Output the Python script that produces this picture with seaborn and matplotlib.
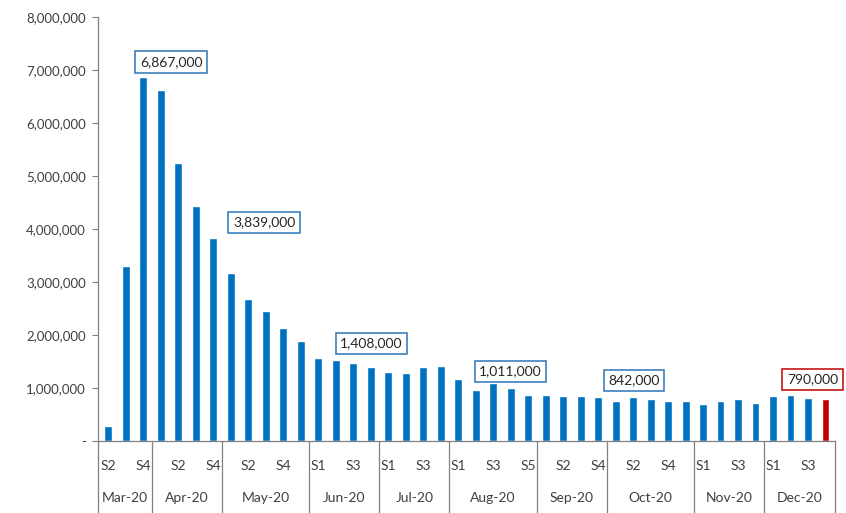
import matplotlib
matplotlib.use("Agg")
import matplotlib.pyplot as plt
import matplotlib.transforms as mtransforms
from matplotlib.ticker import FuncFormatter
import seaborn as sns
import pandas as pd

# ---- data ----
months = ["Mar-20", "Apr-20", "May-20", "Jun-20", "Jul-20",
          "Aug-20", "Sep-20", "Oct-20", "Nov-20", "Dec-20"]
weeks_per_month = [
    ["S2", "S3", "S4"],
    ["S1", "S2", "S3", "S4"],
    ["S1", "S2", "S3", "S4", "S5"],
    ["S1", "S2", "S3", "S4"],
    ["S1", "S2", "S3", "S4"],
    ["S1", "S2", "S3", "S4", "S5"],
    ["S1", "S2", "S3", "S4"],
    ["S1", "S2", "S3", "S4", "S5"],
    ["S1", "S2", "S3", "S4"],
    ["S1", "S2", "S3", "S4"],
]
shown_week_labels = [
    ["S2", "S4"], ["S2", "S4"], ["S2", "S4"], ["S1", "S3"], ["S1", "S3"],
    ["S1", "S3", "S5"], ["S2", "S4"], ["S2", "S4"], ["S1", "S3"], ["S1", "S3"],
]
claims = [
    282000, 3307000, 6867000,
    6615000, 5237000, 4442000, 3839000,
    3176000, 2687000, 2446000, 2126000, 1897000,
    1566000, 1530000, 1470000, 1408000,
    1310000, 1290000, 1400000, 1420000,
    1180000, 960000, 1104000, 1011000, 870000,
    880000, 855000, 860000, 828000,
    755000, 842000, 790000, 755000, 755000,
    710000, 750000, 790000, 720000,
    855000, 880000, 805000, 790000,
]
# bars (1-based) carrying a call-out
highlight_bars = [3, 7, 16, 24, 31, 42]

# ---- build table ----
rows = []
for m, wks in zip(months, weeks_per_month):
    for w in wks:
        rows.append((m, w))
df = pd.DataFrame(rows, columns=["month", "week"])
df["id"] = df["month"] + " " + df["week"]
df["claims"] = claims
df["kind"] = ["normal"] * (len(df) - 1) + ["latest"]

BLUE = "#0070C0"
RED = "#C00000"
TXT = "#404040"

sns.set_style("white")
plt.rcParams["font.family"] = ["Lato", "DejaVu Sans"]

fig = plt.figure(figsize=(8.46, 5.13), dpi=100)
ax = fig.add_axes([0.116, 0.140, 0.871, 0.827])

sns.barplot(data=df, x="id", y="claims", hue="kind",
            palette={"normal": BLUE, "latest": RED},
            dodge=False, width=0.45, legend=False, ax=ax,
            saturation=1)

ax.set_ylim(0, 8000000)
ax.set_xlim(-0.57, len(df) - 0.46)
ax.set_yticks(range(0, 8000001, 1000000))
ax.yaxis.set_major_formatter(FuncFormatter(lambda v, p: "-" if v == 0 else f"{v:,.0f}"))
ax.tick_params(axis="y", labelsize=9.5, colors=TXT, length=4, width=0.8,
               left=True, direction="out", pad=5)
for lab in ax.get_yticklabels():
    lab.set_color(TXT)
ax.tick_params(axis="y", color="#808080")
ax.set_xticks([])
ax.set_xlabel("")
ax.set_ylabel("")
for s in ["top", "right"]:
    ax.spines[s].set_visible(False)
for s in ["left", "bottom"]:
    ax.spines[s].set_color("#808080")
    ax.spines[s].set_linewidth(0.9)

# ---- grouped x labels ----
trans = mtransforms.blended_transform_factory(ax.transData, ax.transAxes)
pos = 0
boundaries = [-0.57]
for m, wks, shown in zip(months, weeks_per_month, shown_week_labels):
    for w in wks:
        if w in shown:
            ax.text(pos, -0.059, w, transform=trans, ha="center", va="center",
                    fontsize=10, color=TXT)
        pos += 1
    end = pos - 1
    left = boundaries[-1]
    right = end + 0.5 if pos < len(df) else len(df) - 0.46
    boundaries.append(right)
    ax.text((left + right) / 2, -0.133, m, transform=trans, ha="center",
            va="center", fontsize=10, color=TXT)
for b in boundaries:
    ax.plot([b, b], [0, -0.175], transform=trans, color="#808080",
            lw=0.9, clip_on=False)

# ---- call-outs ----
offsets = {3: (28, 15), 7: (51, 15.5), 16: (1, 23), 24: (0, 16), 31: (1, 16), 42: (-13, 20)}
for b in highlight_bars:
    v = claims[b - 1]
    edge = RED if b == len(claims) else "#2E75B6"
    dx, dy = offsets[b]
    ax.annotate(f"{v:,}", xy=(b - 1, v), xytext=(dx, dy),
                textcoords="offset pixels", ha="center", va="center",
                fontsize=10, color="#262626", annotation_clip=False,
                bbox=dict(boxstyle="square,pad=0.33", fc="white", ec=edge, lw=1.1))

fig.savefig("out.png", dpi=100, facecolor="white")
